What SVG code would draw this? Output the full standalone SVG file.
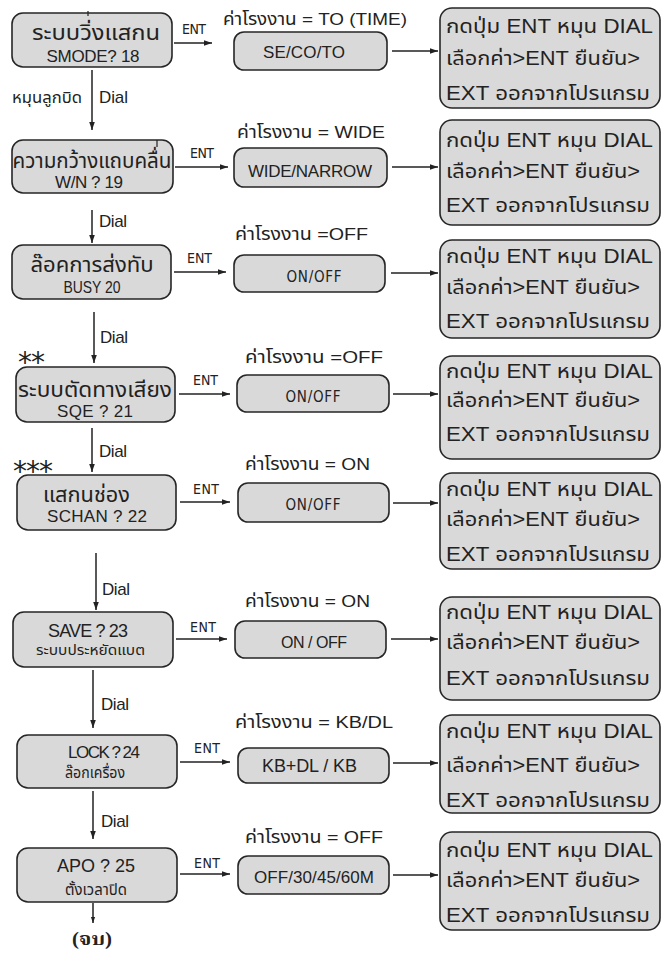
<svg xmlns="http://www.w3.org/2000/svg" width="663" height="953" viewBox="0 0 663 953">
<style>
.box{fill:#d9d9d9;stroke:#262626;stroke-width:1.6}
.t{font-family:"Liberation Sans","Noto Sans Thai","Noto Sans",sans-serif;fill:#222}
.c{text-anchor:middle}
.th{font-size:21px}
.sub{font-size:17px}
.sm{font-size:14px}
.ent{font-family:"DejaVu Sans Condensed","Liberation Sans",sans-serif;font-size:14px;fill:#222}
.lab{font-size:17px}
.r{font-size:20px}
.ln{stroke:#222;stroke-width:1.5;fill:none}
.star{font-family:"DejaVu Sans",sans-serif;font-size:28px;fill:#222}
.end{font-family:"Liberation Serif","Noto Serif Thai",serif;font-weight:bold;font-size:18px;fill:#222}
</style>
<defs>
<marker id="ah" viewBox="0 0 10 10" refX="10" refY="5" markerWidth="8" markerHeight="8" markerUnits="userSpaceOnUse" orient="auto"><path d="M0,1.5 L10,5 L0,8.5 z" fill="#222"/></marker>
<marker id="ahs" viewBox="0 0 10 10" refX="10" refY="5" markerWidth="6" markerHeight="6" markerUnits="userSpaceOnUse" orient="auto"><path d="M0,1.5 L10,5 L0,8.5 z" fill="#222"/></marker>
</defs>

<g id="connectors">
<g class="ln" marker-end="url(#ah)">
<path d="M174,43 H212"/>
<path d="M175,167 H228"/>
<path d="M174,272 H226"/>
<path d="M179,394 H230"/>
<path d="M180,502 H230"/>
<path d="M176,639 H227"/>
<path d="M180,762 H230"/>
<path d="M180,874 H230"/>
<path d="M392,51 H438"/>
<path d="M392,167 H438"/>
<path d="M391,273 H438"/>
<path d="M393,394 H438"/>
<path d="M393,503 H438"/>
<path d="M391,639 H438"/>
<path d="M393,763 H438"/>
<path d="M393,875 H438"/>
<path d="M92,70 V130"/>
<path d="M92,210 V243"/>
<path d="M94,312 V363"/>
<path d="M92,428 V472"/>
<path d="M96,553 V610"/>
<path d="M93,670 V728"/>
<path d="M93,791 V839"/>
</g>
<path class="ln" d="M93,903 V923" marker-end="url(#ahs)"/>
<g class="ent">
<text x="182" y="34" textLength="24">ENT</text>
<text x="190" y="158" textLength="24">ENT</text>
<text x="187" y="263" textLength="25">ENT</text>
<text x="193" y="385" textLength="25">ENT</text>
<text x="193" y="494" textLength="26">ENT</text>
<text x="190" y="632" textLength="26">ENT</text>
<text x="194" y="753" textLength="26">ENT</text>
<text x="194" y="868" textLength="26">ENT</text>
</g>
<g class="t sub">
<text x="99" y="103" textLength="29">Dial</text>
<text x="99" y="227" textLength="28">Dial</text>
<text x="100" y="343" textLength="28">Dial</text>
<text x="99" y="457" textLength="28">Dial</text>
<text x="102" y="595" textLength="28">Dial</text>
<text x="101" y="710" textLength="28">Dial</text>
<text x="101" y="827" textLength="28">Dial</text>
</g>
<text class="t" x="12" y="103" style="font-size:15px" textLength="70" lengthAdjust="spacingAndGlyphs">หมุนลูกบิด</text>
<text class="end" x="72" y="945" textLength="40" lengthAdjust="spacingAndGlyphs">(จบ)</text>
</g>

<g id="row1">
<g id="n-smode"><rect class="box" x="12" y="13" width="160" height="54" rx="11"/><line x1="88" y1="11" x2="88" y2="16" stroke="#222" stroke-width="1.2"/><text class="t th c" x="96" y="40" textLength="128" lengthAdjust="spacingAndGlyphs">ระบบวิ่งแสกน</text><text class="t sub c" x="93" y="62" textLength="93">SMODE? 18</text></g>
<text class="t lab" x="223" y="25" textLength="184" lengthAdjust="spacingAndGlyphs">ค่าโรงงาน = TO (TIME)</text>
<g id="v-smode"><rect class="box" x="234" y="32" width="153" height="38" rx="10"/><text class="t sub c" x="304" y="58" textLength="82">SE/CO/TO</text></g>
<g id="h-smode"><rect class="box" x="440" y="8" width="220" height="100" rx="12"/><text class="t r" x="446" y="33" textLength="207" lengthAdjust="spacingAndGlyphs">กดปุ่ม ENT หมุน DIAL</text><text class="t r" x="446" y="65" textLength="194" lengthAdjust="spacingAndGlyphs">เลือกค่า&gt;ENT ยืนยัน&gt;</text><text class="t r" x="446" y="100" textLength="204" lengthAdjust="spacingAndGlyphs">EXT ออกจากโปรแกรม</text></g>
</g>

<g id="row2">
<g id="n-wn"><rect class="box" x="12" y="140" width="161" height="53" rx="11"/><line x1="157" y1="140" x2="157" y2="147" stroke="#222" stroke-width="1.2"/><text class="t th c" x="92" y="168" textLength="159" lengthAdjust="spacingAndGlyphs">ความกว้างแถบคลื่น</text><text class="t sub c" x="89" y="188" textLength="68">W/N ? 19</text></g>
<text class="t lab" x="237" y="138" textLength="148" lengthAdjust="spacingAndGlyphs">ค่าโรงงาน = WIDE</text>
<g id="v-wn"><rect class="box" x="234" y="148" width="153" height="39" rx="10"/><text class="t sub c" x="310" y="177" textLength="124">WIDE/NARROW</text></g>
<g id="h-wn"><rect class="box" x="440" y="120" width="220" height="105" rx="12"/><text class="t r" x="446" y="147" textLength="207" lengthAdjust="spacingAndGlyphs">กดปุ่ม ENT หมุน DIAL</text><text class="t r" x="446" y="178" textLength="194" lengthAdjust="spacingAndGlyphs">เลือกค่า&gt;ENT ยืนยัน&gt;</text><text class="t r" x="446" y="212" textLength="204" lengthAdjust="spacingAndGlyphs">EXT ออกจากโปรแกรม</text></g>
</g>

<g id="row3">
<g id="n-busy"><rect class="box" x="12" y="245" width="159" height="54" rx="11"/><text class="t th c" x="92" y="272" textLength="123" lengthAdjust="spacingAndGlyphs">ล๊อคการส่งทับ</text><text class="t sub c" x="92" y="293" textLength="57" lengthAdjust="spacingAndGlyphs">BUSY 20</text></g>
<text class="t lab" x="235" y="240" textLength="133" lengthAdjust="spacingAndGlyphs">ค่าโรงงาน =OFF</text>
<g id="v-busy"><rect class="box" x="234" y="255" width="151" height="37" rx="10"/><text class="ent c" x="314" y="282" style="font-size:15px" textLength="55">ON/OFF</text></g>
<g id="h-busy"><rect class="box" x="440" y="240" width="220" height="98" rx="12"/><text class="t r" x="446" y="263" textLength="207" lengthAdjust="spacingAndGlyphs">กดปุ่ม ENT หมุน DIAL</text><text class="t r" x="446" y="294" textLength="194" lengthAdjust="spacingAndGlyphs">เลือกค่า&gt;ENT ยืนยัน&gt;</text><text class="t r" x="446" y="328" textLength="204" lengthAdjust="spacingAndGlyphs">EXT ออกจากโปรแกรม</text></g>
</g>

<g id="row4">
<text class="star" x="18" y="372" textLength="27">**</text>
<g id="n-sqe"><rect class="box" x="16" y="367" width="159" height="55" rx="11"/><text class="t th c" x="95" y="397" textLength="154" lengthAdjust="spacingAndGlyphs">ระบบตัดทางเสียง</text><text class="t sub c" x="95" y="417" textLength="76">SQE  ? 21</text></g>
<text class="t lab" x="245" y="363" textLength="138" lengthAdjust="spacingAndGlyphs">ค่าโรงงาน =OFF</text>
<g id="v-sqe"><rect class="box" x="237" y="375" width="152" height="37" rx="10"/><text class="ent c" x="313" y="402" style="font-size:15px" textLength="55">ON/OFF</text></g>
<g id="h-sqe"><rect class="box" x="440" y="356" width="220" height="103" rx="12"/><text class="t r" x="446" y="378" textLength="207" lengthAdjust="spacingAndGlyphs">กดปุ่ม ENT หมุน DIAL</text><text class="t r" x="446" y="407" textLength="194" lengthAdjust="spacingAndGlyphs">เลือกค่า&gt;ENT ยืนยัน&gt;</text><text class="t r" x="446" y="441" textLength="204" lengthAdjust="spacingAndGlyphs">EXT ออกจากโปรแกรม</text></g>
</g>

<g id="row5">
<text class="star" x="13" y="481" textLength="40">***</text>
<g id="n-schan"><rect class="box" x="17" y="475" width="159" height="55" rx="11"/><text class="t th" x="43" y="502" textLength="87" lengthAdjust="spacingAndGlyphs">แสกนช่อง</text><text class="t sub" x="47" y="522" textLength="100">SCHAN  ? 22</text></g>
<text class="t lab" x="245" y="470" textLength="125" lengthAdjust="spacingAndGlyphs">ค่าโรงงาน = ON</text>
<g id="v-schan"><rect class="box" x="238" y="483" width="151" height="39" rx="10"/><text class="ent c" x="313" y="510" style="font-size:15px" textLength="55">ON/OFF</text></g>
<g id="h-schan"><rect class="box" x="440" y="473" width="220" height="96" rx="12"/><text class="t r" x="446" y="496" textLength="207" lengthAdjust="spacingAndGlyphs">กดปุ่ม ENT หมุน DIAL</text><text class="t r" x="446" y="526" textLength="194" lengthAdjust="spacingAndGlyphs">เลือกค่า&gt;ENT ยืนยัน&gt;</text><text class="t r" x="446" y="561" textLength="204" lengthAdjust="spacingAndGlyphs">EXT ออกจากโปรแกรม</text></g>
</g>

<g id="row6">
<g id="n-save"><rect class="box" x="13" y="612" width="160" height="55" rx="11"/><text class="t" x="48" y="637" style="font-size:18px" textLength="80">SAVE ? 23</text><text class="t sm" x="36" y="655" textLength="109" lengthAdjust="spacingAndGlyphs">ระบบประหยัดแบต</text></g>
<text class="t lab" x="245" y="607" textLength="125" lengthAdjust="spacingAndGlyphs">ค่าโรงงาน = ON</text>
<g id="v-save"><rect class="box" x="235" y="621" width="151" height="37" rx="10"/><text class="t" x="281" y="648" style="font-size:16px" textLength="66">ON / OFF</text></g>
<g id="h-save"><rect class="box" x="440" y="597" width="220" height="103" rx="12"/><text class="t r" x="446" y="619" textLength="207" lengthAdjust="spacingAndGlyphs">กดปุ่ม ENT หมุน DIAL</text><text class="t r" x="446" y="649" textLength="194" lengthAdjust="spacingAndGlyphs">เลือกค่า&gt;ENT ยืนยัน&gt;</text><text class="t r" x="446" y="685" textLength="204" lengthAdjust="spacingAndGlyphs">EXT ออกจากโปรแกรม</text></g>
</g>

<g id="row7">
<g id="n-lock"><rect class="box" x="17" y="735" width="160" height="53" rx="11"/><text class="t sub" x="68" y="758" textLength="72">LOCK ? 24</text><text class="t sm" x="65" y="778" style="font-size:15px" textLength="60" lengthAdjust="spacingAndGlyphs">ล๊อกเครื่อง</text></g>
<text class="t lab" x="235" y="728" textLength="158" lengthAdjust="spacingAndGlyphs">ค่าโรงงาน  =  KB/DL</text>
<g id="v-lock"><rect class="box" x="238" y="748" width="151" height="35" rx="10"/><text class="t" x="262" y="772" style="font-size:18px" textLength="95">KB+DL / KB</text></g>
<g id="h-lock"><rect class="box" x="440" y="715" width="220" height="98" rx="12"/><text class="t r" x="446" y="738" textLength="207" lengthAdjust="spacingAndGlyphs">กดปุ่ม ENT หมุน DIAL</text><text class="t r" x="446" y="772" textLength="194" lengthAdjust="spacingAndGlyphs">เลือกค่า&gt;ENT ยืนยัน&gt;</text><text class="t r" x="446" y="807" textLength="204" lengthAdjust="spacingAndGlyphs">EXT ออกจากโปรแกรม</text></g>
</g>

<g id="row8">
<g id="n-apo"><rect class="box" x="17" y="848" width="160" height="54" rx="11"/><text class="t" x="57" y="872" style="font-size:18px" textLength="78">APO  ? 25</text><text class="t sm" x="65" y="895" style="font-size:15px" textLength="62" lengthAdjust="spacingAndGlyphs">ตั้งเวลาปิด</text></g>
<text class="t lab" x="245" y="843" textLength="138" lengthAdjust="spacingAndGlyphs">ค่าโรงงาน =  OFF</text>
<g id="v-apo"><rect class="box" x="238" y="856" width="151" height="38" rx="10"/><text class="t sub" x="254" y="883" textLength="120">OFF/30/45/60M</text></g>
<g id="h-apo"><rect class="box" x="440" y="832" width="220" height="98" rx="12"/><text class="t r" x="446" y="857" textLength="207" lengthAdjust="spacingAndGlyphs">กดปุ่ม ENT หมุน DIAL</text><text class="t r" x="446" y="887" textLength="194" lengthAdjust="spacingAndGlyphs">เลือกค่า&gt;ENT ยืนยัน&gt;</text><text class="t r" x="446" y="922" textLength="204" lengthAdjust="spacingAndGlyphs">EXT ออกจากโปรแกรม</text></g>
</g>
</svg>
